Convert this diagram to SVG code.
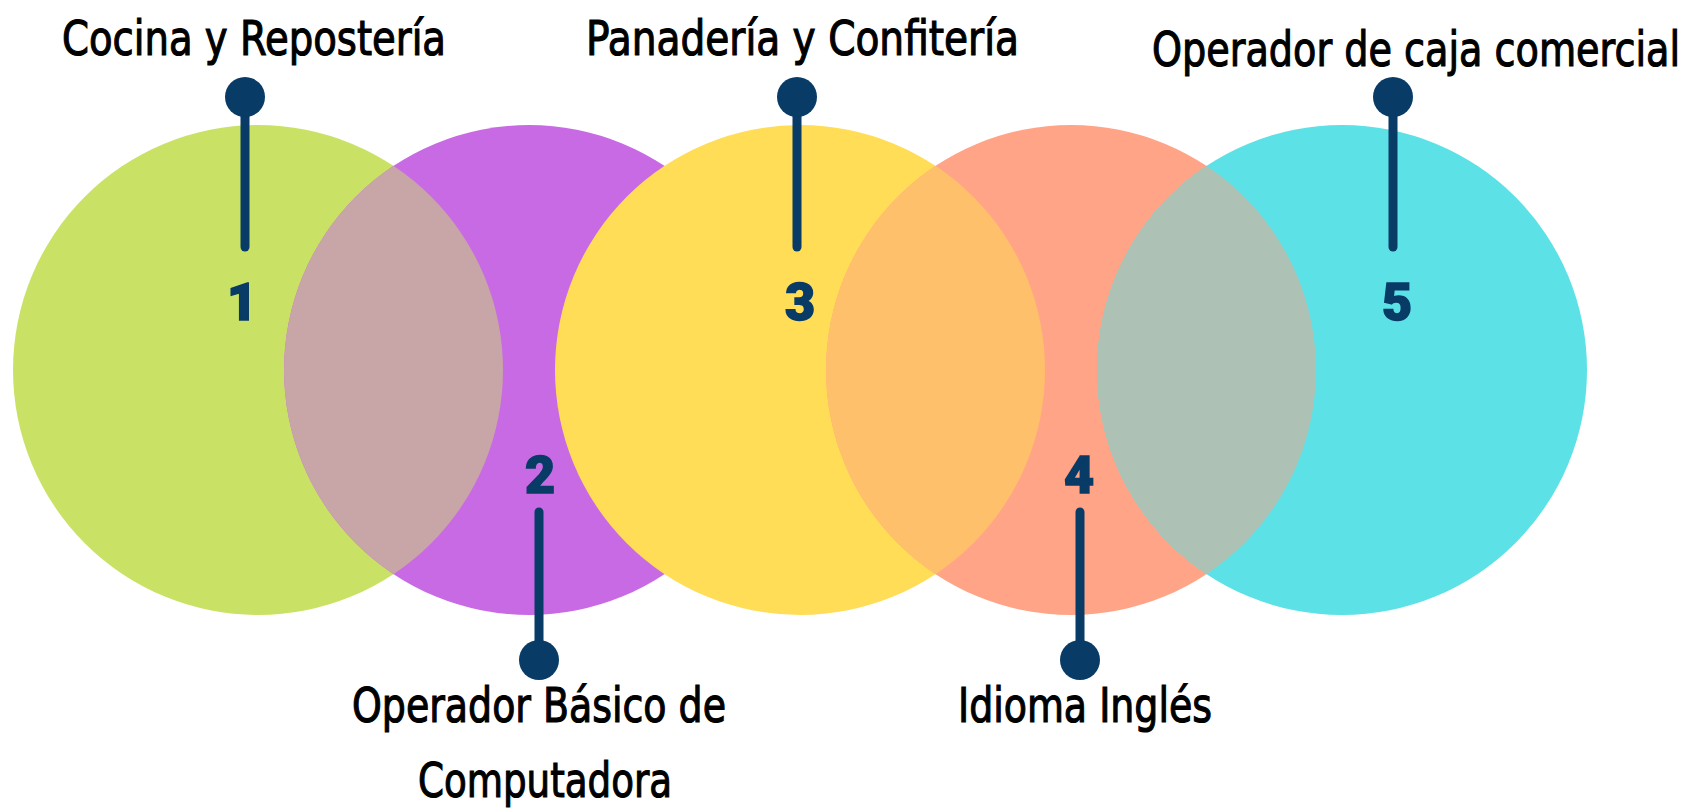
<svg xmlns="http://www.w3.org/2000/svg" width="1688" height="808" viewBox="0 0 1688 808">
<style>
.lbl{font-family:"DejaVu Sans","Liberation Sans",sans-serif;font-size:48px;fill:#000;stroke:#000;stroke-width:1.2px}
.num{font-family:Roboto,"DejaVu Sans",sans-serif;font-weight:900;font-size:52px;fill:#083B66;stroke:#083B66;stroke-width:1.5px;text-anchor:middle}
.stem{stroke:#083B66;stroke-width:9;stroke-linecap:round}
.ball{fill:#083B66}
</style>
<defs>
<clipPath id="c1"><circle cx="258" cy="370" r="245"/></clipPath>
<clipPath id="c3"><circle cx="800" cy="370" r="245"/></clipPath>
<clipPath id="c4"><circle cx="1071" cy="370" r="245"/></clipPath>
</defs>
<rect width="1688" height="808" fill="#fff"/>
<g id="circles">
<circle id="circle1" cx="258" cy="370" r="245" fill="#C9E265"/>
<circle id="circle2" cx="529" cy="370" r="245" fill="#C96AE5"/>
<circle cx="529" cy="370" r="245" fill="#C8A5A6" clip-path="url(#c1)"/>
<circle id="circle3" cx="800" cy="370" r="245" fill="#FFDD57"/>
<circle id="circle4" cx="1071" cy="370" r="245" fill="#FFA486"/>
<circle cx="1071" cy="370" r="245" fill="#FFC06C" clip-path="url(#c3)"/>
<circle id="circle5" cx="1342" cy="370" r="245" fill="#5CE1E6"/>
<circle cx="1342" cy="370" r="245" fill="#ADC2B4" clip-path="url(#c4)"/>
</g>
<g id="connectors">
<line class="stem" x1="245" y1="97" x2="245" y2="247"/>
<line class="stem" x1="797" y1="97" x2="797" y2="247"/>
<line class="stem" x1="1393" y1="97" x2="1393" y2="247"/>
<line class="stem" x1="539" y1="512" x2="539" y2="660"/>
<line class="stem" x1="1080" y1="512" x2="1080" y2="660"/>
<circle class="ball" cx="245" cy="97" r="20"/>
<circle class="ball" cx="797" cy="97" r="20"/>
<circle class="ball" cx="1393" cy="97" r="20"/>
<circle class="ball" cx="539" cy="660" r="20"/>
<circle class="ball" cx="1080" cy="660" r="20"/>
</g>
<g id="node1">
<text class="lbl" x="62" y="55" textLength="384" lengthAdjust="spacingAndGlyphs">Cocina y Repostería</text>
<text class="num" x="242" y="320">1</text>
</g>
<g id="node2">
<text class="lbl" x="352" y="722" textLength="374" lengthAdjust="spacingAndGlyphs">Operador Básico de</text>
<text class="lbl" x="418" y="797" textLength="254" lengthAdjust="spacingAndGlyphs">Computadora</text>
<text class="num" x="540" y="493">2</text>
</g>
<g id="node3">
<text class="lbl" x="586" y="55" textLength="433" lengthAdjust="spacingAndGlyphs">Panadería y Confitería</text>
<text class="num" x="800" y="320">3</text>
</g>
<g id="node4">
<text class="lbl" x="958" y="722" textLength="254" lengthAdjust="spacingAndGlyphs">Idioma Inglés</text>
<text class="num" x="1079" y="493">4</text>
</g>
<g id="node5">
<text class="lbl" transform="translate(1152 66) scale(0.8 1)" x="0" y="0" textLength="660" lengthAdjust="spacingAndGlyphs">Operador de caja comercial</text>
<text class="num" x="1397" y="320">5</text>
</g>
</svg>
